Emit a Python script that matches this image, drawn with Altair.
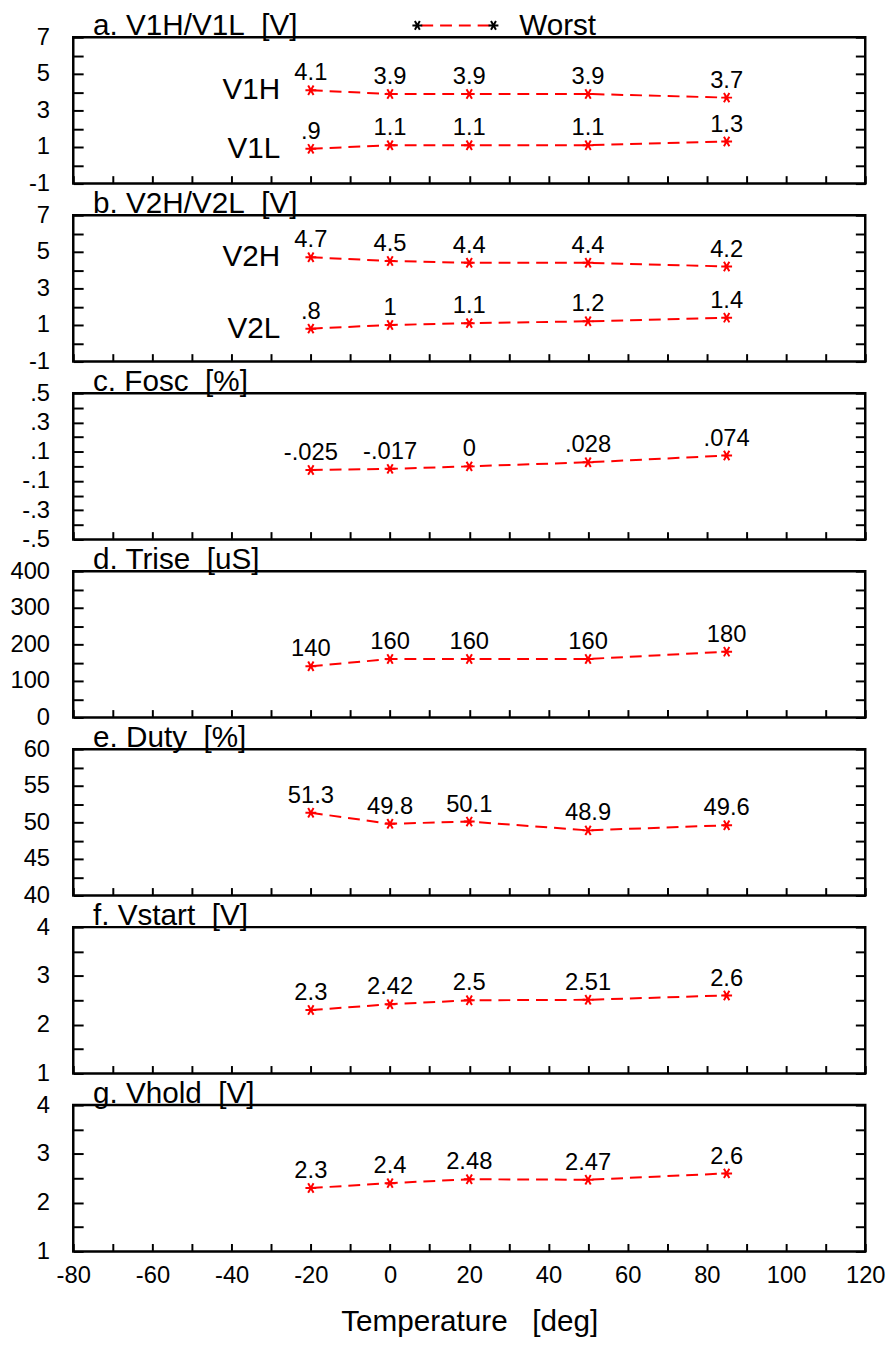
import altair as alt
import pandas as pd

FONT = "Liberation Sans"
RED = "#ff0000"
ASTER = "M-1,0L1,0M-0.5,-0.87L0.5,0.87M-0.5,0.87L0.5,-0.87"

temps = [-20, 0, 20, 50, 85]

v1h = [4.1, 3.9, 3.9, 3.9, 3.7]
v1l = [0.9, 1.1, 1.1, 1.1, 1.3]
v2h = [4.7, 4.5, 4.4, 4.4, 4.2]
v2l = [0.8, 1.0, 1.1, 1.2, 1.4]
fosc = [-0.025, -0.017, 0.0, 0.028, 0.074]
trise = [140, 160, 160, 160, 180]
duty = [51.3, 49.8, 50.1, 48.9, 49.6]
vstart = [2.3, 2.42, 2.5, 2.51, 2.6]
vhold = [2.3, 2.4, 2.48, 2.47, 2.6]

x_ticks = list(range(-80, 121, 10))
x_labels = list(range(-80, 121, 20))

ticks_ab = [-1, 0, 1, 2, 3, 4, 5, 6, 7]
labels_ab = [-1, 1, 3, 5, 7]
ticks_c = [-0.5, -0.4, -0.3, -0.2, -0.1, 0.0, 0.1, 0.2, 0.3, 0.4, 0.5]
labels_c = [-0.5, -0.3, -0.1, 0.1, 0.3, 0.5]
ticks_d = [0, 50, 100, 150, 200, 250, 300, 350, 400]
labels_d = [0, 100, 200, 300, 400]
ticks_e = [40, 42.5, 45, 47.5, 50, 52.5, 55, 57.5, 60]
labels_e = [40, 45, 50, 55, 60]
ticks_fg = [1, 1.5, 2, 2.5, 3, 3.5, 4]
labels_fg = [1, 2, 3, 4]

titles = [
    "a. V1H/V1L\u00a0\u00a0[V]",
    "b. V2H/V2L\u00a0\u00a0[V]",
    "c. Fosc\u00a0\u00a0[%]",
    "d. Trise\u00a0\u00a0[uS]",
    "e. Duty\u00a0\u00a0[%]",
    "f. Vstart\u00a0\u00a0[V]",
    "g. Vhold\u00a0\u00a0[V]",
]


def fmt(v):
    s = f"{v:g}"
    if s.startswith("0."):
        s = s[1:]
    elif s.startswith("-0."):
        s = "-" + s[2:]
    return s


def label_expr(labels):
    parts = []
    for v in labels:
        parts.append(f"abs(datum.value - ({v})) < 1e-9 ? '{fmt(v)}'")
    return " : ".join(parts) + " : ''"


panels = [
    (titles[0], [("V1H", v1h), ("V1L", v1l)], [-1, 7], ticks_ab, labels_ab),
    (titles[1], [("V2H", v2h), ("V2L", v2l)], [-1, 7], ticks_ab, labels_ab),
    (titles[2], [("", fosc)], [-0.5, 0.5], ticks_c, labels_c),
    (titles[3], [("", trise)], [0, 400], ticks_d, labels_d),
    (titles[4], [("", duty)], [40, 60], ticks_e, labels_e),
    (titles[5], [("", vstart)], [1, 4], ticks_fg, labels_fg),
    (titles[6], [("", vhold)], [1, 4], ticks_fg, labels_fg),
]

W, H = 801, 148
charts = []
for i, (title, series, dom, yt, yl) in enumerate(panels):
    last = i == len(panels) - 1
    rows = []
    for name, vals in series:
        for t, v in zip(temps, vals):
            rows.append({"temp": t, "value": v, "series": name or "s", "label": fmt(v)})
    df = pd.DataFrame(rows)
    first = df[df["temp"] == temps[0]]

    xscale = alt.Scale(domain=[-80, 120], nice=False, zero=False)
    yscale = alt.Scale(domain=dom, nice=False, zero=False)

    if last:
        xaxis = alt.Axis(
            values=x_ticks, orient="bottom", offset=-8, tickSize=8, domain=False,
            grid=False, tickColor="black", tickWidth=2,
            labelExpr=label_expr(x_labels), labelPadding=12, labelFont=FONT,
            labelFontSize=24, labelColor="black", labelFlush=False,
            title="Temperature\u00a0\u00a0\u00a0[deg]",
            titleFont=FONT, titleFontSize=30, titleFontWeight="normal",
            titlePadding=20, titleColor="black",
        )
    else:
        xaxis = alt.Axis(
            values=x_ticks, orient="bottom", offset=-8, tickSize=8, domain=False,
            grid=False, tickColor="black", tickWidth=2, labels=False, title=None,
        )
    yaxis_left = alt.Axis(
        values=yt, orient="left", offset=-10, tickSize=10, domain=False, grid=False,
        tickColor="black", tickWidth=2, labelExpr=label_expr(yl), labelPadding=24,
        labelFont=FONT, labelFontSize=24, labelColor="black", labelFlush=False,
        title=None,
    )
    yaxis_right = alt.Axis(
        values=yt, orient="right", offset=-10, tickSize=10, domain=False, grid=False,
        tickColor="black", tickWidth=2, labels=False, title=None,
    )

    base = alt.Chart(df)
    line = base.mark_line(color=RED, strokeDash=[12, 7], strokeWidth=2).encode(
        x=alt.X("temp:Q", scale=xscale, axis=xaxis),
        y=alt.Y("value:Q", scale=yscale, axis=yaxis_left),
        detail="series:N",
    )
    pts = base.mark_point(shape=ASTER, color=RED, filled=False, strokeWidth=2, size=120).encode(
        x=alt.X("temp:Q", scale=xscale),
        y=alt.Y("value:Q", scale=yscale, axis=yaxis_right),
    )
    txt = base.mark_text(font=FONT, fontSize=24, dy=-10, baseline="alphabetic", color="black").encode(
        x=alt.X("temp:Q", scale=xscale),
        y=alt.Y("value:Q", scale=yscale, axis=None),
        text="label:N",
    )
    ttl = alt.Chart(pd.DataFrame({"t": [title]})).mark_text(
        font=FONT, fontSize=30, align="left", baseline="alphabetic", color="black"
    ).encode(x=alt.value(20), y=alt.value(-2), text="t:N")

    layers = [line, pts, txt, ttl]
    if series[0][0]:
        ser = alt.Chart(first).mark_text(
            font=FONT, fontSize=30, align="right", baseline="middle", dx=-31, color="black"
        ).encode(
            x=alt.X("temp:Q", scale=xscale),
            y=alt.Y("value:Q", scale=yscale, axis=None),
            text="series:N",
        )
        layers.append(ser)
    if i == 0:
        one = pd.DataFrame({"t": ["Worst"]})
        leg_line = alt.Chart(one).mark_rule(color=RED, strokeDash=[12, 7], strokeWidth=2).encode(
            x=alt.value(352), x2=alt.value(424), y=alt.value(-12)
        )
        leg_p1 = alt.Chart(one).mark_point(shape=ASTER, color="black", filled=False, strokeWidth=2, size=100, opacity=1).encode(
            x=alt.value(348), y=alt.value(-12)
        )
        leg_p2 = alt.Chart(one).mark_point(shape=ASTER, color="black", filled=False, strokeWidth=2, size=100, opacity=1).encode(
            x=alt.value(425), y=alt.value(-12)
        )
        leg_t = alt.Chart(one).mark_text(font=FONT, fontSize=30, align="left", baseline="alphabetic", color="black").encode(
            x=alt.value(451), y=alt.value(-2), text="t:N"
        )
        layers += [leg_line, leg_p1, leg_p2, leg_t]

    ch = alt.layer(*layers).resolve_axis(y="independent").properties(width=W, height=H)
    charts.append(ch)

chart = alt.vconcat(*charts, spacing=32, bounds="flush").properties(
    padding={"left": 0, "top": -6, "right": 0, "bottom": -4},
    background="white",
).configure_view(stroke="black", strokeWidth=2.5).configure_point(opacity=1)

chart.save("out.html", embed_options={"renderer": "svg", "actions": False})
